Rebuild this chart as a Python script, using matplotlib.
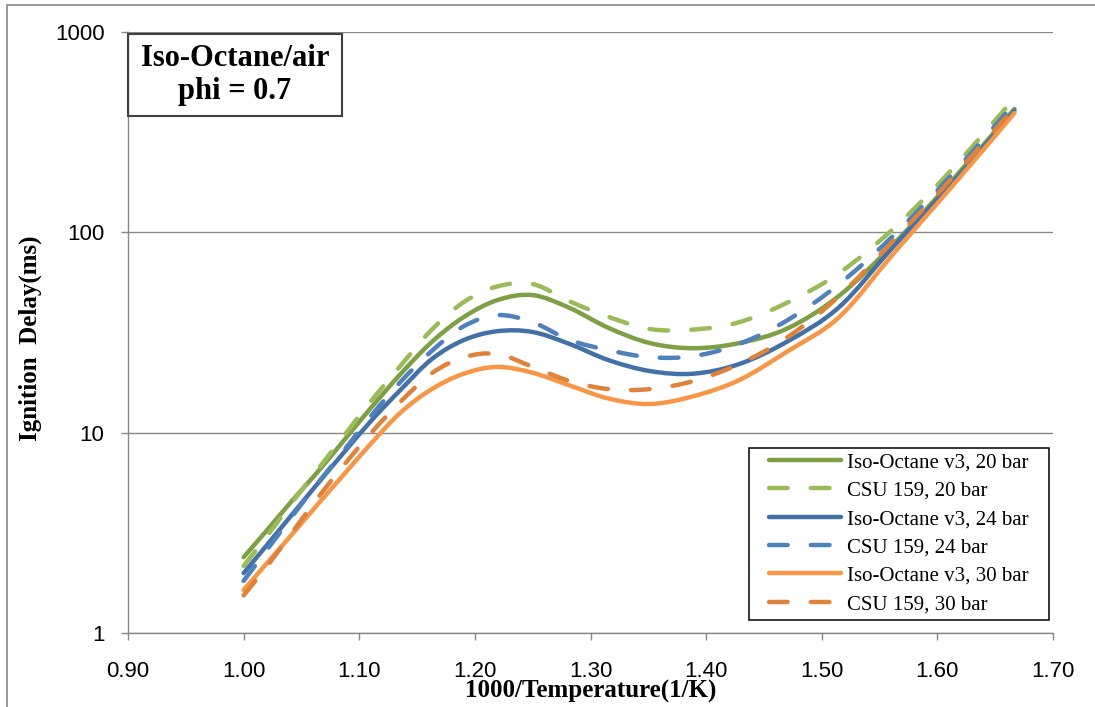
import numpy as np
import matplotlib
matplotlib.use("Agg")
import matplotlib.pyplot as plt
from matplotlib.patches import Rectangle, PathPatch
from matplotlib.path import Path
from matplotlib.lines import Line2D
from matplotlib.ticker import FixedLocator, NullLocator, FormatStrFormatter, FixedFormatter

# temperatures (K) of the computed points, plotted as 1000/T
temps = np.array([1000, 980, 960, 940, 920, 900, 880, 860, 840, 820, 800,
                  780, 760, 740, 720, 700, 680, 660, 640, 620, 600])

# ignition delay (ms)
iso_20 = [2.39, 3.27, 4.56, 6.35, 9.18, 13.5, 19.8, 28.4, 37.8, 45.9, 48.6,
          41.9, 33.3, 28.0, 26.4, 28.0, 33.2, 48.3, 87.9, 182, 413]
csu_20 = [2.16, 3.06, 4.46, 6.52, 9.68, 14.6, 21.8, 32.7, 44.9, 53.7, 55.2,
          45.2, 37.8, 32.9, 32.7, 35.6, 44.7, 62.7, 105, 207, 468]
iso_24 = [1.99, 2.76, 3.89, 5.55, 8.0, 11.6, 16.5, 23.3, 29.0, 32.1, 31.8,
          27.7, 23.0, 20.3, 19.7, 22.0, 28.6, 42.4, 85.5, 176, 404]
csu_24 = [1.82, 2.61, 3.80, 5.57, 8.17, 12.3, 18.1, 25.6, 34.0, 38.6, 35.6,
          29.0, 25.8, 23.8, 24.1, 27.7, 36.5, 55.2, 97.0, 195, 440]
iso_30 = [1.64, 2.24, 3.10, 4.37, 6.21, 8.95, 12.7, 16.5, 19.7, 21.3, 19.9,
          17.2, 14.8, 13.9, 15.2, 18.3, 25.5, 37.8, 78.9, 170, 394]
csu_30 = [1.54, 2.16, 3.16, 4.70, 6.92, 10.1, 14.4, 19.8, 23.8, 24.7, 21.3,
          18.1, 16.5, 16.5, 18.1, 22.0, 30.0, 48.1, 91.6, 187, 420]

labels = ["Iso-Octane v3, 20 bar", "CSU 159, 20 bar",
          "Iso-Octane v3, 24 bar", "CSU 159, 24 bar",
          "Iso-Octane v3, 30 bar", "CSU 159, 30 bar"]
series = [iso_20, csu_20, iso_24, csu_24, iso_30, csu_30]
colors = ["#7F9F45", "#9BBB59", "#4470A8", "#4F81BD", "#F79646", "#DF823C"]
dashed = [False, True, False, True, False, True]

x_ticks = [0.90, 1.00, 1.10, 1.20, 1.30, 1.40, 1.50, 1.60, 1.70]
y_ticks = [1, 10, 100, 1000]

grey = "#888888"
serif = "Liberation Serif"
LW = 3.2
DASH = (0, (4.2, 5.2))


def smooth_path(xs, ys):
    # smoothed line through the points (cubic Bezier, Catmull-Rom tangents
    # taken in the log-y space of the axes)
    pts = np.column_stack([xs, np.log10(ys)])
    ext = np.vstack([pts[0], pts, pts[-1]])
    verts = [pts[0]]
    codes = [Path.MOVETO]
    for i in range(len(pts) - 1):
        p0, p1, p2, p3 = ext[i], ext[i + 1], ext[i + 2], ext[i + 3]
        verts += [p1 + (p2 - p0) / 6, p2 - (p3 - p1) / 6, p2]
        codes += [Path.CURVE4] * 3
    verts = np.array(verts)
    verts[:, 1] = 10 ** verts[:, 1]
    return Path(verts, codes)


fig = plt.figure(figsize=(10.95, 7.07), dpi=100)
ax = fig.add_axes([128 / 1095, 1 - 633 / 707, 925 / 1095, 601 / 707])

x = 1000.0 / temps
handles = []
for ys, lab, c, d in zip(series, labels, colors, dashed):
    ls = DASH if d else "-"
    ax.add_patch(PathPatch(smooth_path(x, ys), fill=False, ec=c, lw=LW,
                           linestyle=ls, capstyle="round", joinstyle="round",
                           zorder=3))
    handles.append(Line2D([], [], color=c, lw=LW, linestyle=ls,
                          dash_capstyle="round", solid_capstyle="round",
                          label=lab))

ax.set_yscale("log")
ax.set_xlim(0.9, 1.7)
ax.set_ylim(1, 1000)
ax.xaxis.set_major_locator(FixedLocator(x_ticks))
ax.xaxis.set_major_formatter(FormatStrFormatter("%.2f"))
ax.yaxis.set_major_locator(FixedLocator(y_ticks))
ax.yaxis.set_major_formatter(FixedFormatter([str(v) for v in y_ticks]))
ax.yaxis.set_minor_locator(NullLocator())

ax.grid(axis="y", color=grey, lw=1.0)
ax.set_axisbelow(True)
for s in ["top", "right"]:
    ax.spines[s].set_visible(False)
for s in ["left", "bottom"]:
    ax.spines[s].set_color(grey)
    ax.spines[s].set_linewidth(1.0)

ax.tick_params(axis="x", direction="out", length=5, width=1.0, color=grey,
               pad=15, labelsize=16)
ax.tick_params(axis="y", direction="out", length=5, width=1.0, color=grey,
               pad=12, labelsize=16)
for t in ax.get_xticklabels() + ax.get_yticklabels():
    t.set_fontfamily("Liberation Sans")

ax.set_xlabel("1000/Temperature(1/K)", fontsize=18, fontweight="bold", family=serif)
ax.xaxis.set_label_coords(0.5, -0.078)
ax.set_ylabel("Ignition  Delay(ms)", fontsize=18, fontweight="bold", family=serif)
ax.yaxis.set_label_coords(-0.093, 0.49)

# mixture label box in the top-left corner
ax.add_patch(Rectangle((0, 0.8602), 0.2314, 0.1365, transform=ax.transAxes,
                       fill=False, ec="#404040", lw=1.5, zorder=5, clip_on=False))
ax.text(0.1157, 0.928, "Iso-Octane/air\nphi = 0.7", transform=ax.transAxes,
        ha="center", va="center", fontsize=22, fontweight="bold", family=serif,
        linespacing=1.2, zorder=6)

# legend: frame drawn separately for independent side/top padding
ax.add_patch(Rectangle((0.6714, 0.0216), 0.3243, 0.2862, transform=ax.transAxes,
                       fc="white", ec="black", lw=1.1, zorder=7))
leg = ax.legend(handles=handles, loc="upper left",
                bbox_to_anchor=(0.693, 0.2998), borderaxespad=0, borderpad=0,
                prop={"family": serif, "size": 15}, frameon=False,
                handlelength=3.45, handletextpad=0.29, labelspacing=0.42)
leg.set_zorder(8)

# outer chart border
fig.patches.append(Rectangle((7 / 1095, -0.1), 1.2, (702 / 707) + 0.1,
                             transform=fig.transFigure, fill=False,
                             ec=grey, lw=1.2))

fig.savefig("out.png", dpi=100)
